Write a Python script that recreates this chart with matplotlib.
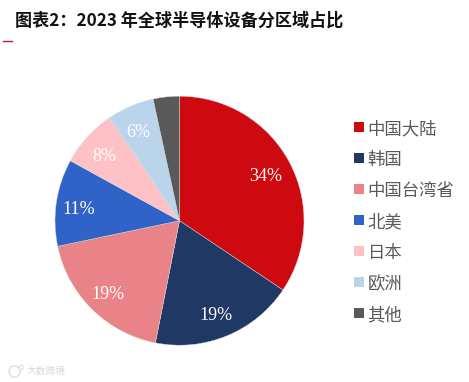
import matplotlib
matplotlib.use("Agg")
import matplotlib.pyplot as plt
from matplotlib.lines import Line2D

W, H = 469, 382
regions = ["中国大陆", "韩国", "中国台湾省", "北美", "日本", "欧洲", "其他"]
shares = [34.4, 18.7, 18.6, 11.3, 7.5, 6.1, 3.4]
shown_labels = ["34%", "19%", "19%", "11%", "8%", "6%", ""]
colors = ["#CE0A10", "#1F3864", "#E98387", "#2F63C8", "#FEC2C6", "#BAD4EC", "#595959"]
title = "图表2：2023 年全球半导体设备分区域占比"
watermark = "大数跨境"

cjk = ["Noto Sans CJK SC", "DejaVu Sans"]
fig = plt.figure(figsize=(W / 100, H / 100), dpi=100)
cx, cy, r = 179.5, 220.7, 124.5
ax = fig.add_axes([(cx - r) / W, 1 - (cy + r) / H, 2 * r / W, 2 * r / H])
label_iter = iter(shown_labels)
wedges, _, autotexts = ax.pie(
    shares, colors=colors, startangle=90, counterclock=False, radius=1,
    autopct=lambda p: next(label_iter), pctdistance=0.8,
    wedgeprops=dict(linewidth=0.3, edgecolor="#dddddd"),
    textprops=dict(family="Liberation Serif", fontsize=13, color="white"),
)
for t in autotexts:
    px, py = t.get_position()
    t.set_position((px - 0.015, py - 0.025))
ax.set_xlim(-1, 1)
ax.set_ylim(-1, 1)
ax.set_aspect("equal")

top, step = 127.3, 31.0
for i, (name, c) in enumerate(zip(regions, colors)):
    y = 1 - (top + i * step) / H
    fig.add_artist(Line2D([359 / W], [y], marker="s", markersize=6.6, color=c,
                          markeredgewidth=0, linestyle="none"))
    fig.text(367.5 / W, y, name, family=cjk, fontsize=12.5, color="#595959",
             va="center_baseline", ha="left")

fig.text(15 / W, 1 - 21 / H, title, family=cjk, fontsize=12.3, fontweight="bold",
         color="#111111", va="center", ha="left")
fig.add_artist(Line2D([3 / W, 12 / W], [1 - 41 / H] * 2, color="#C8103C", lw=1.0))
fig.add_artist(Line2D([14 / W], [1 - 371 / H], marker="o", markersize=8, markerfacecolor="none",
                      markeredgecolor="#e2e2e2", markeredgewidth=1.2, linestyle="none"))
fig.add_artist(Line2D([21 / W], [1 - 367 / H], marker="o", markersize=3, markerfacecolor="none",
                      markeredgecolor="#e2e2e2", markeredgewidth=0.8, linestyle="none"))
fig.text(27 / W, 1 - 371 / H, watermark, family=cjk, fontsize=7, color="#d8d8d8",
         va="center", ha="left")
fig.savefig("out.png", dpi=100)
